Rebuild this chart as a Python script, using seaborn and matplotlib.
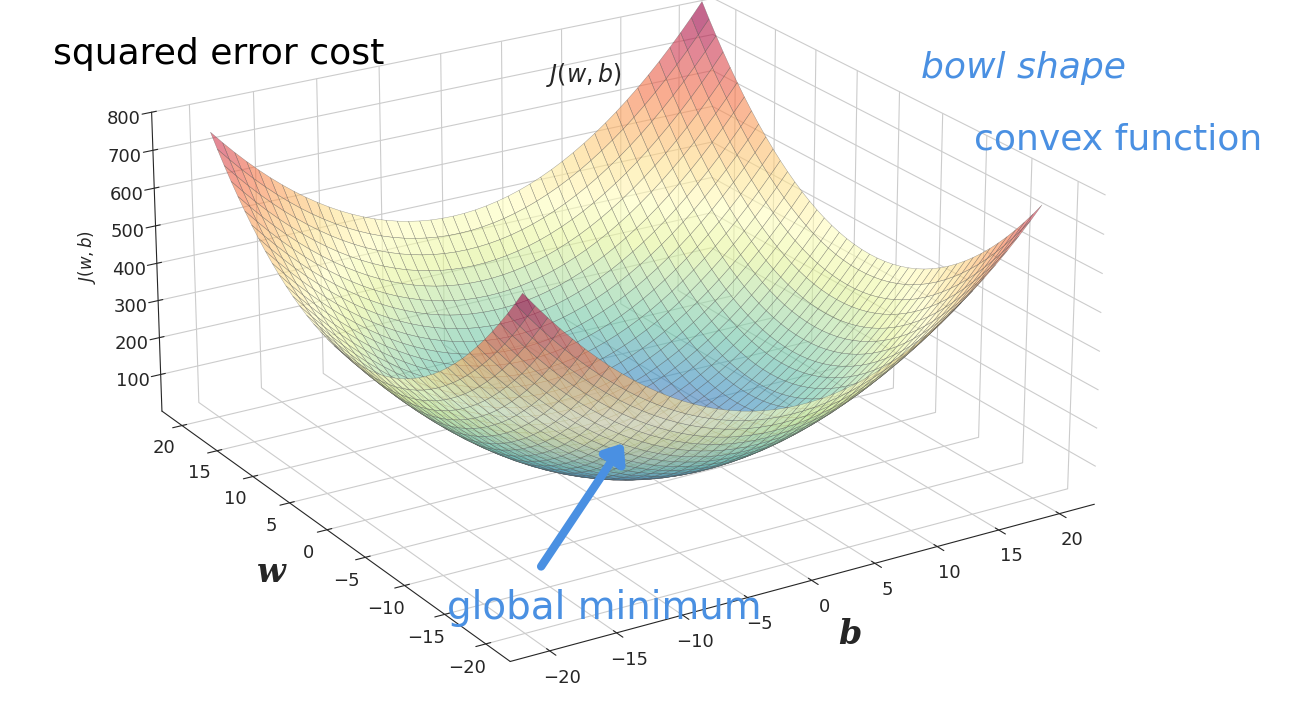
import numpy as np
import matplotlib.pyplot as plt
import seaborn as sns

sns.set_style("white")

# small training set that defines the cost surface
x_train = [-0.95, 1.05]
y_train = [0.0, 0.0]
w_vals = np.linspace(-20, 20, 45)
b_vals = np.linspace(-20, 20, 45)

W, B = np.meshgrid(w_vals, b_vals)
J = np.zeros_like(W)
for x, y in zip(x_train, y_train):
    J += (W * x + B - y) ** 2
J = J / len(x_train)

fig = plt.figure(figsize=(13.16, 7.11), dpi=100)
ax = fig.add_axes([-0.23, -0.15, 1.38, 1.40], projection='3d')
ax.plot_surface(B, W, J, cmap='Spectral_r', alpha=0.6, edgecolor='#555555',
                linewidth=0.3, rstride=1, cstride=1)
ax.view_init(elev=22, azim=-122)
ax.set_box_aspect((1.4, 1.45, 0.68))
ax.set_zlim(0, 800)
ax.set_xlabel('b', fontsize=24, fontfamily='DejaVu Serif', fontweight='bold', fontstyle='italic', labelpad=14)
ax.set_ylabel('w', fontsize=24, fontfamily='DejaVu Serif', fontweight='bold', fontstyle='italic', labelpad=14)
ax.zaxis.set_rotate_label(False)
ax.set_zlabel('$J(w,b)$', fontsize=12, rotation=90, labelpad=8)
ax.set_zticks([100, 200, 300, 400, 500, 600, 700, 800])
ax.set_xticks([-20, -15, -10, -5, 0, 5, 10, 15, 20])
ax.set_yticks([-20, -15, -10, -5, 0, 5, 10, 15, 20])
ax.tick_params(labelsize=13)
for a in (ax.xaxis, ax.yaxis, ax.zaxis):
    a.set_pane_color((1, 1, 1, 0))

fig.text(0.415, 0.885, '$J(w,b)$', fontsize=17)
fig.text(0.04, 0.91, 'squared error cost', fontsize=26, color='black')
fig.text(0.70, 0.89, 'bowl shape', fontsize=26, color='#4a90e2', fontstyle='italic')
fig.text(0.74, 0.79, 'convex function', fontsize=26, color='#4a90e2')
fig.text(0.34, 0.13, 'global minimum', fontsize=28, color='#4a90e2')
fig.add_artist(plt.matplotlib.patches.FancyArrowPatch(
    (0.41, 0.2), (0.475, 0.38), transform=fig.transFigure,
    arrowstyle='-|>,head_width=8,head_length=10', color='#4a90e2', lw=6))

fig.savefig('out.png', dpi=100)
